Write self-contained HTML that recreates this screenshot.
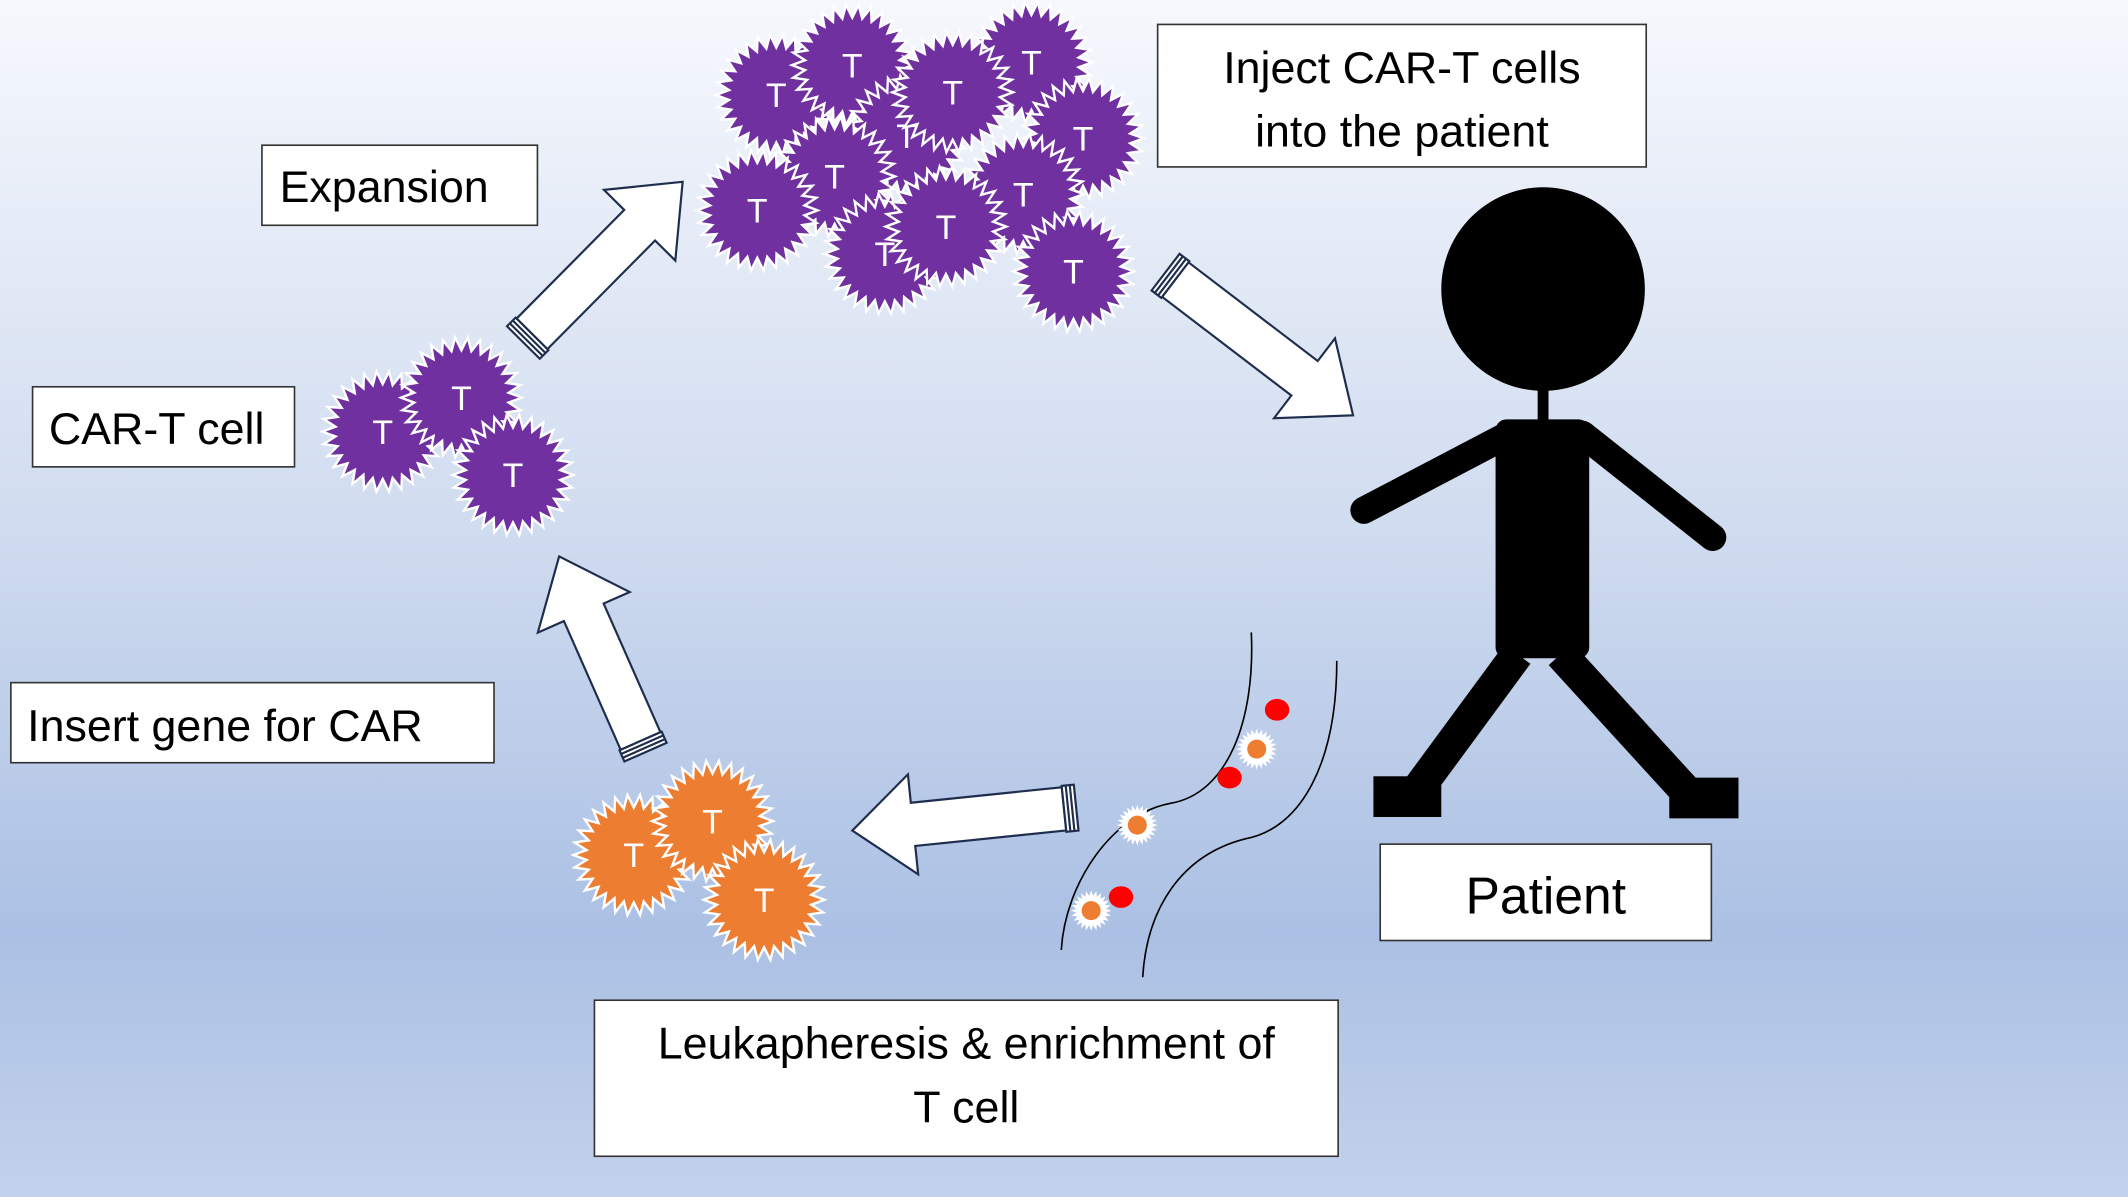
<!DOCTYPE html>
<html><head><meta charset="utf-8"><style>
html,body{margin:0;padding:0;}
body{width:2128px;height:1197px;overflow:hidden;}
svg{display:block;}
text{font-family:"Liberation Sans",sans-serif;}
</style></head><body>
<svg id="s" width="2128" height="1197" viewBox="0 0 1568 882" xmlns="http://www.w3.org/2000/svg">
<defs>
<linearGradient id="bg" x1="0" y1="0" x2="0" y2="1">
<stop offset="0" stop-color="#f6f8fd"/>
<stop offset="0.45" stop-color="#cfdbef"/>
<stop offset="0.78" stop-color="#abc0e4"/>
<stop offset="1" stop-color="#c3d2ec"/>
</linearGradient>
</defs>
<rect width="1568" height="882" fill="url(#bg)"/>
<g id="cells"></g>
<g id="arrows" fill="#fff" stroke="#1f2d4d" stroke-width="1.6"></g>
<!-- person -->
<g fill="#000">
<circle cx="1137" cy="213" r="75"/>
<rect x="1133" y="285" width="8" height="28"/>
<rect x="1102" y="309" width="69" height="176" rx="8"/>
<line x1="1108" y1="322" x2="1005" y2="376" stroke="#000" stroke-width="20" stroke-linecap="round"/>
<line x1="1166" y1="320" x2="1262" y2="396" stroke="#000" stroke-width="20" stroke-linecap="round"/>
<line x1="1118" y1="482" x2="1040" y2="588" stroke="#000" stroke-width="24"/>
<line x1="1150" y1="482" x2="1245" y2="586" stroke="#000" stroke-width="24"/>
<rect x="1012" y="572" width="50" height="30"/>
<rect x="1230" y="573" width="51" height="30"/>
</g>
<!-- vessel -->
<g fill="none" stroke="#000" stroke-width="1.2">
<path d="M922,466 C925,530 905,585 862,592 C820,600 785,650 782,700"/>
<path d="M985,487 C985,560 960,610 918,618 C870,630 845,670 842,720"/>
</g>
<g fill="#f00">
<ellipse cx="941" cy="523" rx="9" ry="8"/>
<ellipse cx="906" cy="573" rx="9" ry="8"/>
<ellipse cx="826" cy="661" rx="9" ry="8"/>
</g>
<g id="small"></g>
<!-- boxes -->
<g fill="#fff" stroke="#333" stroke-width="1.2">
<rect x="193" y="107" width="203" height="59"/>
<rect x="24" y="285" width="193" height="59"/>
<rect x="8" y="503" width="356" height="59"/>
<rect x="853" y="18" width="360" height="105"/>
<rect x="1017" y="622" width="244" height="71"/>
<rect x="438" y="737" width="548" height="115"/>
</g>
<g fill="#000" font-size="33">
<text x="206" y="149">Expansion</text>
<text x="36" y="327">CAR-T cell</text>
<text x="20" y="546">Insert gene for CAR</text>
<text x="1033" y="61" text-anchor="middle">Inject CAR-T cells</text>
<text x="1033" y="108" text-anchor="middle">into the patient</text>
<text x="1139" y="673" text-anchor="middle" font-size="38">Patient</text>
<text x="712" y="780" text-anchor="middle">Leukapheresis &amp; enrichment of</text>
<text x="712" y="827" text-anchor="middle">T cell</text>
</g>
</svg>
<script>
var NS="http://www.w3.org/2000/svg";
function star(cx,cy,ro,ri,n){var p=[];for(var i=0;i<2*n;i++){var r=i%2?ri:ro,a=Math.PI*i/n;p.push((cx+r*Math.cos(a)).toFixed(1)+","+(cy+r*Math.sin(a)).toFixed(1));}return p.join(" ");}
function el(t,at,par){var e=document.createElementNS(NS,t);for(var k in at)e.setAttribute(k,at[k]);par.appendChild(e);return e;}
var cg=document.getElementById("cells");
function cell(x,y,col){
 el("polygon",{points:star(x,y,47,37,30),fill:"#fff"},cg);
 el("polygon",{points:star(x,y,42,33,30),fill:col},cg);
 var t=el("text",{x:x,y:y+9,"text-anchor":"middle",fill:"#fff","font-size":"25"},cg);t.textContent="T";
}
[[282,318],[340,293],[378,350]].forEach(function(c){cell(c[0],c[1],"#7030a0");});
[[572,70],[628,48],[760,46],[798,102],[668,100],[702,68],[615,130],[558,155],[754,143],[652,187],[697,167],[791,200]].forEach(function(c){cell(c[0],c[1],"#7030a0");});
[[467,630],[525,605],[563,663]].forEach(function(c){cell(c[0],c[1],"#ed7d31");});
var sg=document.getElementById("small");
[[926,552],[838,608],[804,671]].forEach(function(c){
 el("polygon",{points:star(c[0],c[1],15,11,24),fill:"#fff"},sg);
 el("circle",{cx:c[0],cy:c[1],r:7,fill:"#ed7d31"},sg);
});
var ag=document.getElementById("arrows");
function arrow(tx,ty,px,py){
 var dx=px-tx,dy=py-ty,L=Math.sqrt(dx*dx+dy*dy),a=Math.atan2(dy,dx)*180/Math.PI;
 var g=el("g",{transform:"translate("+tx+","+ty+") rotate("+a.toFixed(2)+")"},ag);
 el("polygon",{points:"0,-16 "+(L-45)+",-16 "+(L-45)+",-37 "+L+",0 "+(L-45)+",37 "+(L-45)+",16 0,16"},g);
 el("rect",{x:-9,y:-17,width:9,height:34},g);
 el("line",{x1:-3,y1:-17,x2:-3,y2:17},g);
 el("line",{x1:-6,y1:-17,x2:-6,y2:17},g);
}
arrow(392,246,503,134);
arrow(866,206,997,306);
arrow(784,596,628,612);
arrow(472,546,412,410);
</script>
</body></html>
